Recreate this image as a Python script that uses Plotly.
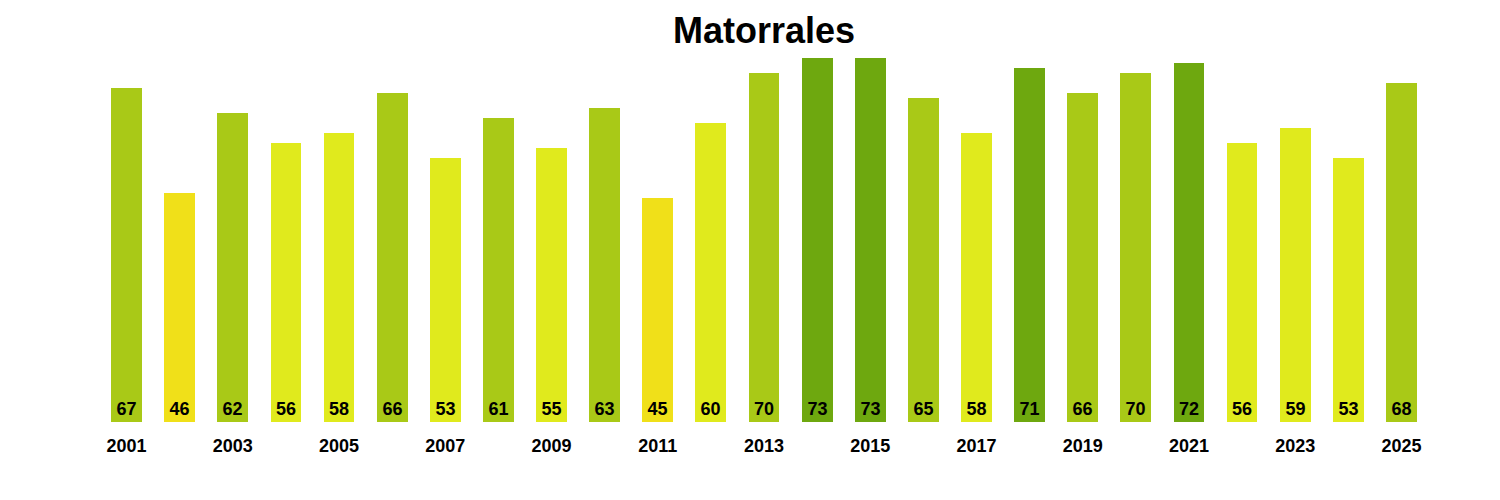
import plotly.graph_objects as go

years = list(range(2001, 2026))
values = [67, 46, 62, 56, 58, 66, 53, 61, 55, 63, 45, 60, 70, 73, 73, 65, 58, 71, 66, 70, 72, 56, 59, 53, 68]
tick_years = [y for y in years if y % 2 == 1]
tick_labels = [str(y) for y in tick_years]


def color_for(v):
    if v > 70:
        return "#6EA80F"
    if v > 60:
        return "#A9C917"
    if v >= 50:
        return "#E0EA1D"
    return "#F0E019"


colors = [color_for(v) for v in values]

fig = go.Figure(
    go.Bar(
        x=years,
        y=values,
        marker=dict(color=colors, line=dict(width=0)),
        width=0.58,
        text=[str(v) for v in values],
        textposition="inside",
        insidetextanchor="start",
        textangle=0,
        textfont=dict(family="Liberation Sans", size=18, color="black", weight="bold"),
        hoverinfo="x+y",
    )
)

fig.update_layout(
    width=1500,
    height=500,
    plot_bgcolor="white",
    paper_bgcolor="white",
    margin=dict(l=92, r=80, t=50, b=86),
    title=dict(
        text="<b>Matorrales</b>",
        x=0.5,
        xref="paper",
        xanchor="center",
        y=0.956,
        yanchor="middle",
        font=dict(family="Liberation Sans", size=36, color="black"),
    ),
    xaxis=dict(
        range=[2000.5, 2025.5],
        tickvals=tick_years,
        ticktext=tick_labels,
        showgrid=False,
        zeroline=False,
        showline=False,
        ticks="outside",
        ticklen=7,
        tickcolor="rgba(0,0,0,0)",
        tickfont=dict(family="Liberation Sans", size=18, color="black", weight="bold"),
    ),
    yaxis=dict(
        range=[0, 73],
        visible=False,
        showgrid=False,
        zeroline=False,
    ),
    showlegend=False,
    bargap=0,
)

fig.write_html("out.html")
